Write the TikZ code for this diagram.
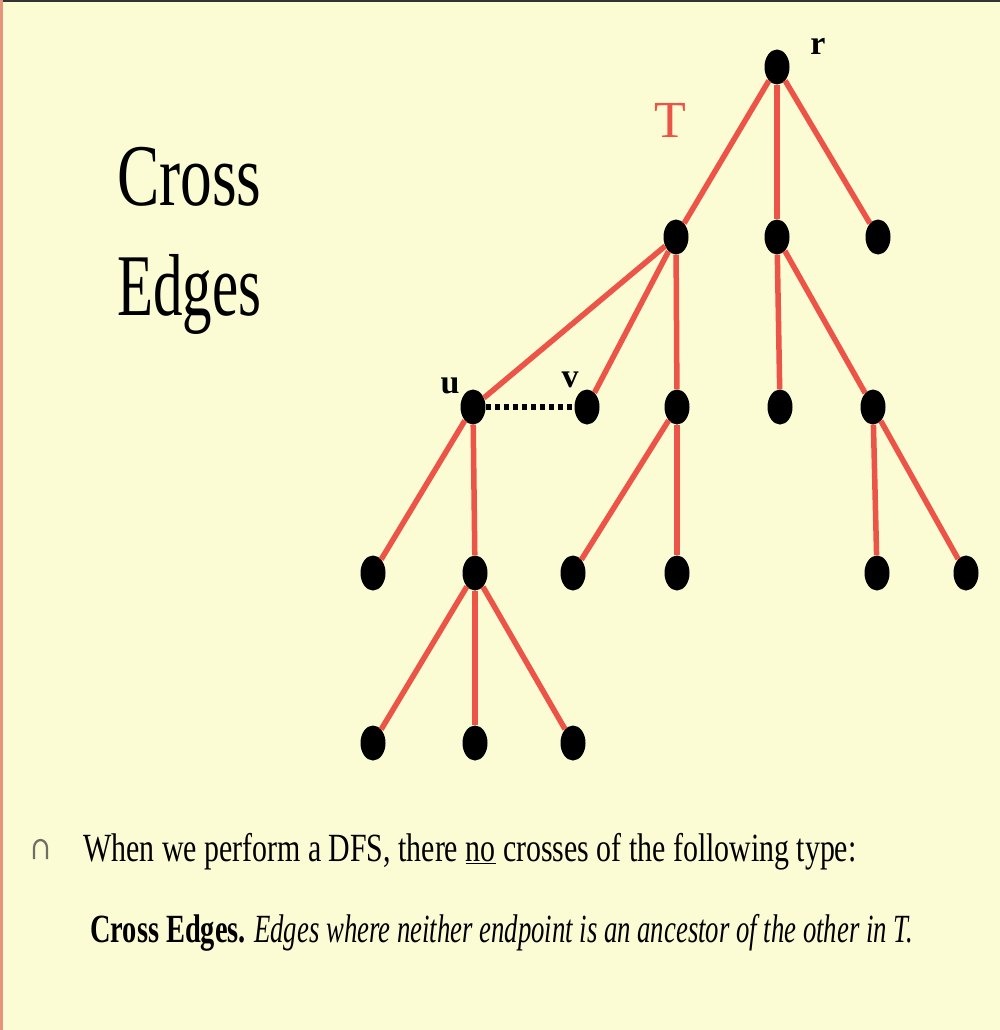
\documentclass[tikz,border=0pt]{standalone}
\usepackage{fontspec}
\setmainfont{Liberation Serif}
\usepackage{graphicx}
\usetikzlibrary{shapes.geometric}
\definecolor{bg}{RGB}{251,251,212}
\definecolor{tred}{RGB}{236,84,72}
\definecolor{bul}{RGB}{110,110,100}
\begin{document}
\begin{tikzpicture}[x=1pt,y=-1pt,
  vtx/.style={ellipse,fill=black,minimum width=25pt,minimum height=35pt,inner sep=0pt},
  tedge/.style={draw=tred,line width=5.5pt},
  xedge/.style={draw=black,line width=6pt,dash pattern=on 5pt off 4pt},
  lbl/.style={font=\fontsize{34}{34}\selectfont\bfseries,inner sep=0pt}]
\useasboundingbox (0,0) rectangle (1000,1030);
\fill[bg] (0,0) rectangle (1000,1030);
\fill[black!80] (0,0) rectangle (1000,2);
\fill[red!40!brown!60] (0,0) rectangle (3,1030);
% title
\node[anchor=base west,inner sep=0pt] (t1) at (117,205) {\scalebox{0.72}[1]{\fontsize{88}{88}\selectfont Cross}};
\node[anchor=base west,inner sep=0pt] (t2) at (117,315) {\scalebox{0.67}[1]{\fontsize{88}{88}\selectfont Edges}};
% vertices
\node[vtx] (r) at (777,67) {};
\node[vtx] (a) at (676,237) {};
\node[vtx] (b) at (777,237) {};
\node[vtx] (c) at (878,237) {};
\node[vtx] (u) at (473,407) {};
\node[vtx] (v) at (587,407) {};
\node[vtx] (d) at (677,407) {};
\node[vtx] (e) at (780,407) {};
\node[vtx] (f) at (873,407) {};
\node[vtx] (g) at (373,573) {};
\node[vtx] (h) at (475,573) {};
\node[vtx] (i) at (573,573) {};
\node[vtx] (j) at (677,573) {};
\node[vtx] (k) at (877,573) {};
\node[vtx] (l) at (966,573) {};
\node[vtx] (m) at (373,743) {};
\node[vtx] (n) at (475,743) {};
\node[vtx] (o) at (573,743) {};
% tree edges
\foreach \p/\q in {r/a,r/b,r/c,a/u,a/v,a/d,b/e,b/f,u/g,u/h,d/i,d/j,f/k,f/l,h/m,h/n,h/o}
  \draw[tedge] (\p) -- (\q);
% cross edge
\draw[xedge] (u) -- (v);
% labels
\node[lbl,anchor=base] (lr) at (818,55) {r};
\node[lbl,anchor=base] (lu) at (450,393) {u};
\node[lbl,anchor=base] (lv) at (570,387) {v};
\node[anchor=base,inner sep=0pt,text=tred] (lt) at (670,137) {\fontsize{52}{52}\selectfont T};
% bullet
\draw[bul,line width=2.2pt] (34,859) -- (34,848) arc (180:360:6.5 and 8) -- (47,859);
% text
\node[anchor=base west,inner sep=0pt] (l1) at (83,861) {\scalebox{0.747}[1]{\fontsize{40}{40}\selectfont When we perform a DFS, there \underline{no} crosses of the following type:}};
\node[anchor=base west,inner sep=0pt] (l2a) at (90,942) {\scalebox{0.71}[1]{\fontsize{40}{40}\selectfont\bfseries Cross Edges.}};
\node[anchor=base west,inner sep=0pt] (l2b) at (254,942) {\scalebox{0.668}[1]{\fontsize{40}{40}\selectfont\itshape Edges where neither endpoint is an ancestor of the other in T.}};
\end{tikzpicture}
\end{document}
